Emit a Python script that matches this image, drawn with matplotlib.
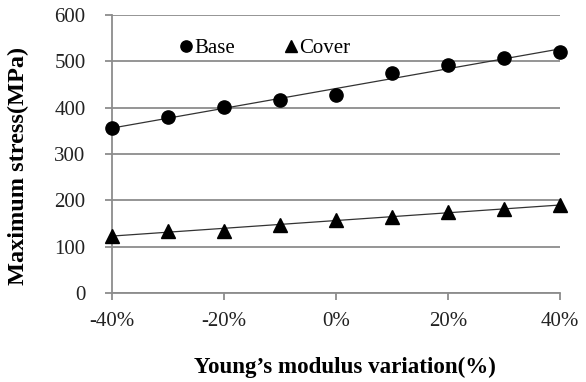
import numpy as np
import matplotlib
matplotlib.use("Agg")
import matplotlib.pyplot as plt
from matplotlib.ticker import FuncFormatter

# Young's modulus variation (%)
variation = [-40, -30, -20, -10, 0, 10, 20, 30, 40]
base = [355, 379, 401, 416, 428, 474, 491, 507, 520]
cover = [124, 134, 134, 147, 158, 165, 174, 181, 190]

plt.rcParams['font.family'] = ['Liberation Serif', 'DejaVu Serif']

fig = plt.figure(figsize=(5.86, 3.82), dpi=100)
ax = fig.add_axes([0.191, 0.233, 0.765, 0.728])

x = np.array(variation, dtype=float)
for vals in [base, cover]:
    vals = np.array(vals, dtype=float)
    k, b = np.polyfit(x, vals, 1)
    ax.plot(x, k * x + b, color='#333333', lw=0.9, zorder=3)
ax.plot(x, base, 'o', color='black', ms=9.5, ls='none', label='Base', zorder=4,
        clip_on=False)
ax.plot(x, cover, '^', color='black', ms=10, ls='none', label='Cover', zorder=4,
        clip_on=False)

ax.set_xlim(-40, 40)
ax.set_ylim(0, 600)
ax.set_xticks([-40, -20, 0, 20, 40])
ax.xaxis.set_major_formatter(FuncFormatter(lambda v, p: '%d%%' % v))
ax.set_yticks(range(0, 601, 100))
ax.yaxis.grid(True, color='#8c8c8c', lw=1.3)
ax.set_axisbelow(True)
for s in ['top', 'right']:
    ax.spines[s].set_visible(False)
for s in ['left', 'bottom']:
    ax.spines[s].set_color('#8c8c8c')
    ax.spines[s].set_linewidth(1.3)
ax.tick_params(axis='both', colors='#8c8c8c', length=5, width=1.3,
               labelsize=15, labelcolor='#222222')
ax.tick_params(axis='x', pad=9)
ax.tick_params(axis='y', pad=14)

ax.set_xlabel("Young\u2019s modulus variation(%)", fontsize=16.6, fontweight='bold')
ax.set_ylabel("Maximum stress(MPa)", fontsize=17.5, fontweight='bold')
ax.xaxis.set_label_coords(0.519, -0.23)
ax.yaxis.set_label_coords(-0.185, 0.457)

ax.legend(loc='center left', bbox_to_anchor=(0.151, 0.879), ncol=2, frameon=False,
          fontsize=15, markerscale=0.85, handlelength=0.6, handletextpad=0.1,
          columnspacing=2.4, borderpad=0, borderaxespad=0)

fig.savefig('out.png', dpi=100)
